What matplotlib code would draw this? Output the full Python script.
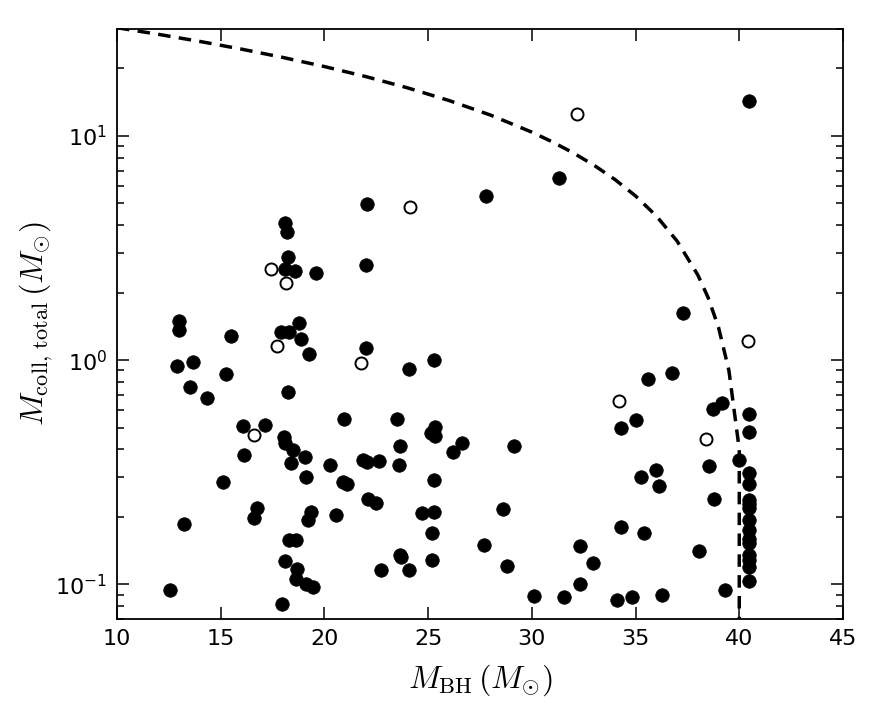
import matplotlib
matplotlib.use("Agg")
import matplotlib.pyplot as plt
from matplotlib.ticker import LogLocator, NullFormatter

plt.rcParams['mathtext.fontset'] = 'cm'

# filled circles: M_BH, M_coll,total
filled_x = [22.05, 18.1, 18.2, 18.25, 18.1, 18.6, 19.6, 22.0, 27.8, 40.47, 31.3, 37.3,
            13.0, 13.0, 15.5, 12.88, 13.68, 15.26, 13.52, 14.33, 16.06, 17.11, 16.10, 15.13,
            16.74, 16.58, 13.25, 12.53,
            18.79, 17.91, 18.31, 18.87, 19.24, 22.01, 18.23, 20.96, 18.07, 18.1, 18.47, 19.04,
            18.39, 20.26, 19.12, 20.88, 21.09, 21.85, 22.05, 22.65, 22.1, 22.47, 19.36, 19.23,
            20.56, 18.3, 18.65, 18.1, 18.68, 18.63, 19.12, 19.44, 17.94,
            25.26, 24.10, 23.50, 25.34, 25.15, 25.34, 23.66, 26.62, 26.19, 23.58, 25.26, 24.69,
            25.27, 25.19, 23.62, 23.70, 25.19, 22.73, 24.10, 27.71,
            29.16, 28.60, 28.79, 30.09, 31.54, 32.30, 32.94, 32.34,
            35.62, 36.76, 34.30, 35.03, 38.53, 35.25, 36.0, 36.12, 38.77, 34.30, 35.40, 38.08,
            34.09, 34.82, 36.26,
            38.72, 39.17, 39.98, 39.29,
            40.46, 40.46, 40.46, 40.46, 40.46, 40.46, 40.46, 40.46, 40.46, 40.46, 40.46, 40.46,
            40.46, 40.46, 40.46]
filled_y = [4.99, 4.1, 3.74, 2.87, 2.56, 2.51, 2.44, 2.67, 5.41, 14.3, 6.5, 1.63,
            1.50, 1.36, 1.28, 0.94, 0.98, 0.87, 0.755, 0.68, 0.507, 0.514, 0.379, 0.286,
            0.218, 0.198, 0.185, 0.094,
            1.47, 1.34, 1.34, 1.24, 1.06, 1.135, 0.722, 0.549, 0.455, 0.428, 0.397, 0.368,
            0.348, 0.34, 0.30, 0.286, 0.281, 0.358, 0.352, 0.354, 0.241, 0.231, 0.21, 0.193,
            0.203, 0.158, 0.158, 0.127, 0.117, 0.106, 0.1, 0.097, 0.082,
            1.0, 0.91, 0.549, 0.504, 0.474, 0.458, 0.414, 0.429, 0.39, 0.34, 0.291, 0.208,
            0.21, 0.17, 0.135, 0.132, 0.129, 0.116, 0.116, 0.15,
            0.414, 0.216, 0.121, 0.0886, 0.0877, 0.148, 0.125, 0.1,
            0.828, 0.872, 0.50, 0.54, 0.336, 0.30, 0.325, 0.274, 0.241, 0.18, 0.17, 0.141,
            0.085, 0.0875, 0.09,
            0.603, 0.645, 0.36, 0.094,
            0.578, 0.476, 0.314, 0.28, 0.237, 0.227, 0.218, 0.193, 0.174, 0.16, 0.153, 0.135,
            0.128, 0.119, 0.103]

# open circles
open_x = [24.13, 17.4, 18.15, 32.18, 16.62, 17.72, 21.77, 34.19, 38.40, 40.41]
open_y = [4.83, 2.54, 2.2, 12.5, 0.463, 1.155, 0.973, 0.656, 0.443, 1.22]

# dashed limit curve
curve_x = [10, 12, 14, 16, 18, 20, 22, 24, 26, 28, 30, 31, 32, 33, 34, 35, 36, 37,
           38, 38.5, 39, 39.5, 40, 40]
curve_y = [30.4, 28.4, 26.4, 24.4, 22.4, 20.4, 18.4, 16.4, 14.4, 12.4, 10.4, 9.4, 8.4,
           7.4, 6.4, 5.4, 4.4, 3.4, 2.4, 1.9, 1.4, 0.9, 0.4, 0.05]

fig = plt.figure(figsize=(8.76, 7.13), dpi=100)
ax = fig.add_axes([0.1336, 0.1318, 0.8287, 0.8275])

ax.plot(curve_x, curve_y, color='black', lw=2.5, ls=(0, (3.6, 2.4)))
ax.scatter(filled_x, filled_y, s=95, c='black', edgecolors='black', linewidths=0.5, zorder=3)
ax.scatter(open_x, open_y, s=75, facecolors='white', edgecolors='black', linewidths=1.4, zorder=3)

ax.set_yscale('log')
ax.set_xlim(10, 45)
ax.set_ylim(0.07, 30)
ax.set_xticks([10, 15, 20, 25, 30, 35, 40, 45])
ax.yaxis.set_minor_locator(LogLocator(base=10, subs=range(2, 10)))
ax.yaxis.set_minor_formatter(NullFormatter())

ax.tick_params(which='both', direction='in', top=True, right=True, width=1.1)
ax.tick_params(which='major', length=8.5, labelsize=16, pad=7)
ax.tick_params(which='minor', length=5)
for sp in ax.spines.values():
    sp.set_linewidth(1.3)

ax.set_xlabel(r'$M_{\rm BH}\,(M_{\odot})$', fontsize=23, labelpad=10)
ax.set_ylabel(r'$M_{\rm coll,\,total}\,(M_{\odot})$', fontsize=23, labelpad=0)

fig.savefig('out.png', dpi=100)
